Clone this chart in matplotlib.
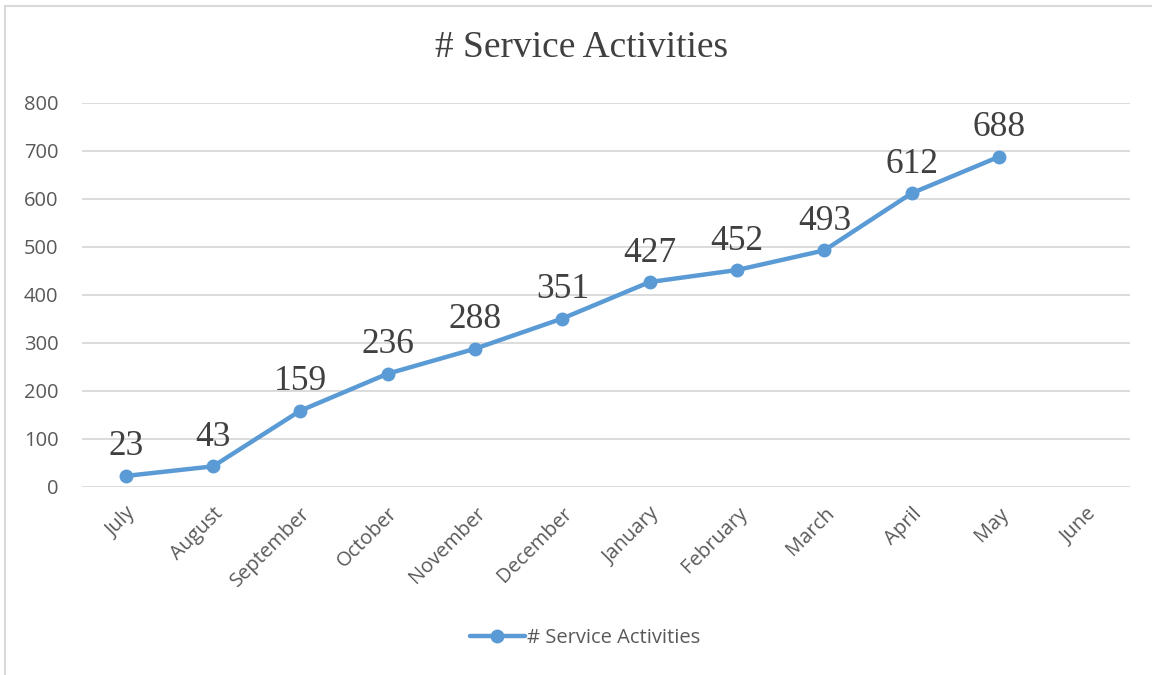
import matplotlib
matplotlib.use("Agg")
import matplotlib.pyplot as plt
from matplotlib.lines import Line2D

months = ["July", "August", "September", "October", "November", "December",
          "January", "February", "March", "April", "May", "June"]
activities = [23, 43, 159, 236, 288, 351, 427, 452, 493, 612, 688]
y_ticks = [0, 100, 200, 300, 400, 500, 600, 700, 800]

LINE_COLOR = "#5B9BD5"
TEXT_COLOR = "#595959"
GRID_COLOR = "#D9D9D9"
SERIF = ["Liberation Serif", "DejaVu Serif"]
SANS = ["Open Sans", "DejaVu Sans"]
SANS_SIZE = 14.5

W, H = 1152, 675
fig = plt.figure(figsize=(W / 100, H / 100), dpi=100)
ax = fig.add_axes([82 / W, 1 - 487 / H, 1048 / W, 384 / H])

x = list(range(len(activities)))
ax.plot(x, activities, color=LINE_COLOR, lw=3.2, marker="o", ms=9,
        solid_capstyle="round", label="# Service Activities", zorder=3)

for xi, v in zip(x, activities):
    ax.annotate(str(v), (xi, v), xytext=(0, 9), textcoords="offset points",
                ha="center", va="bottom", fontsize=25.5, color="#404040",
                family=SERIF)

ax.set_xlim(-0.5, len(months) - 0.5)
ax.set_ylim(0, 800)
ax.set_yticks(y_ticks)
ax.set_xticks(range(len(months)))
ax.set_xticklabels(months, rotation=45, ha="right", rotation_mode="anchor",
                   family=SANS, fontsize=SANS_SIZE, color=TEXT_COLOR)
for lbl in ax.get_yticklabels():
    lbl.set_family(SANS)
    lbl.set_fontsize(SANS_SIZE)
    lbl.set_color(TEXT_COLOR)
ax.tick_params(axis="both", length=0)
ax.tick_params(axis="y", pad=17)
ax.tick_params(axis="x", pad=12)
ax.grid(axis="y", color=GRID_COLOR, lw=1.3)
ax.set_axisbelow(True)
for s in ax.spines.values():
    s.set_visible(False)

fig.text(582 / W, 1 - 48 / H, "# Service Activities", ha="center",
         va="center", fontsize=27, color="#404040", family=SERIF)

leg = fig.legend(handles=[Line2D([], [], color=LINE_COLOR, lw=3.2, marker="o",
                                 ms=9, solid_capstyle="round")],
                 labels=["# Service Activities"], loc="center",
                 bbox_to_anchor=(585 / W, 1 - 638 / H), frameon=False,
                 handlelength=2.7, handletextpad=0.1,
                 prop={"family": SANS, "size": SANS_SIZE})
for t in leg.get_texts():
    t.set_color(TEXT_COLOR)

# outer chart border (left and top edges visible in the crop)
fig.add_artist(Line2D([5 / W, 5 / W], [0, 1 - 6 / H], color=GRID_COLOR,
                      lw=1.5, transform=fig.transFigure))
fig.add_artist(Line2D([5 / W, 1], [1 - 6 / H, 1 - 6 / H], color=GRID_COLOR,
                      lw=1.5, transform=fig.transFigure))

fig.savefig("out.png", dpi=100)
